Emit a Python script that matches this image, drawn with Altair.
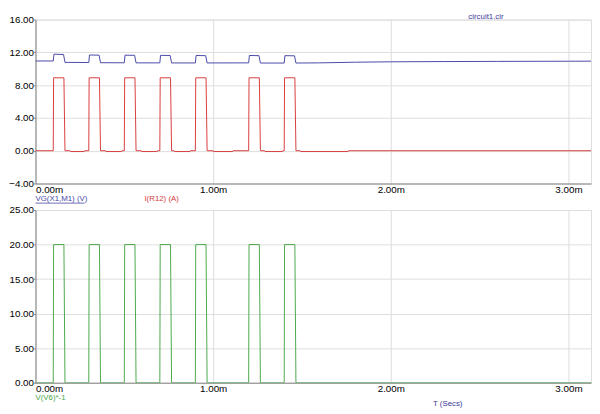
import altair as alt
import pandas as pd

# ---- data (time in ms) ----
blue_t = [0.000, 0.100, 0.104, 0.158, 0.166, 0.300, 0.304, 0.358, 0.366, 0.500, 0.504, 0.558, 0.566,
          0.700, 0.704, 0.758, 0.766, 0.900, 0.904, 0.958, 0.966, 1.200, 1.204, 1.258, 1.266,
          1.400, 1.404, 1.458, 1.466, 1.600, 1.800, 2.000, 2.300, 2.600, 3.000, 3.130]
blue_v = [10.95, 10.95, 11.78, 11.74, 10.78, 10.76, 11.68, 11.66, 10.74, 10.73, 11.66, 11.64, 10.72,
          10.72, 11.64, 11.62, 10.71, 10.71, 11.62, 11.60, 10.71, 10.72, 11.62, 11.60, 10.70,
          10.70, 11.60, 11.58, 10.70, 10.72, 10.80, 10.85, 10.88, 10.90, 10.92, 10.93]

red_t = [0.000, 0.100, 0.102, 0.160, 0.166, 0.195, 0.197, 0.275, 0.277,
         0.300, 0.302, 0.360, 0.366, 0.395, 0.397, 0.485, 0.487,
         0.500, 0.502, 0.560, 0.566, 0.595, 0.597, 0.685, 0.687,
         0.700, 0.702, 0.760, 0.766, 0.780, 0.782, 0.870, 0.872,
         0.900, 0.902, 0.960, 0.966, 1.000, 1.002, 1.110, 1.112,
         1.200, 1.202, 1.260, 1.266, 1.290, 1.292, 1.390, 1.392,
         1.400, 1.402, 1.460, 1.466, 1.490, 1.492, 1.760, 1.762, 3.130]
red_v = [0.0, 0.0, 8.9, 8.9, 0.0, 0.0, -0.1, -0.1, 0.0,
         0.0, 8.9, 8.9, 0.0, 0.0, -0.1, -0.1, 0.0,
         0.0, 8.9, 8.9, 0.0, 0.0, -0.1, -0.1, 0.0,
         0.0, 8.9, 8.9, 0.0, 0.0, -0.1, -0.1, 0.0,
         0.0, 8.9, 8.9, 0.0, 0.0, -0.1, -0.1, 0.0,
         0.0, 8.9, 8.9, 0.0, 0.0, -0.1, -0.1, 0.0,
         0.0, 8.9, 8.9, 0.0, 0.0, -0.1, -0.1, 0.0, 0.0]

green_t = [0.000, 0.100, 0.102, 0.160, 0.166, 0.300, 0.302, 0.360, 0.366, 0.500, 0.502, 0.560, 0.566,
           0.700, 0.702, 0.760, 0.766, 0.900, 0.902, 0.960, 0.966, 1.200, 1.202, 1.260, 1.266,
           1.400, 1.402, 1.460, 1.466, 3.130]
green_v = [0, 0, 20, 20, 0, 0, 20, 20, 0, 0, 20, 20, 0,
           0, 20, 20, 0, 0, 20, 20, 0, 0, 20, 20, 0,
           0, 20, 20, 0, 0]

x_ticks = [0, 1, 2, 3]
top_ticks = [-4, 0, 4, 8, 12, 16]
bottom_ticks = [0, 5, 10, 15, 20, 25]

top_labels = ["VG(X1,M1) (V)", "I(R12) (A)"]
bottom_labels = ["V(V6)*-1", "T (Secs)"]
file_label = "circuit1.cir"

# ---- style ----
FONT = "Liberation Sans"
NAVY = "#3a3a9a"
BLUE = "#4848a8"
RED = "#d83c3c"
GREEN = "#4aa84a"
W = 566
H_TOP = 167
H_BOT = 176
XMAX = 3.127

xscale = alt.Scale(domain=[0, XMAX], nice=False, zero=False)
xaxis = alt.Axis(values=x_ticks, labelExpr="format(datum.value, '.2f') + 'm'",
                 labelFlush=True, title=None, ticks=False, labelPadding=1)


def line(t, v, color, yscale, yaxis):
    df = pd.DataFrame({"t": t, "v": v})
    return alt.Chart(df).mark_line(color=color, strokeWidth=1, clip=True).encode(
        x=alt.X("t:Q", scale=xscale, axis=xaxis),
        y=alt.Y("v:Q", scale=yscale, axis=yaxis),
    )


def label(text, x, y, color, size=8):
    return alt.Chart(pd.DataFrame({"s": [text]})).mark_text(
        align="left", baseline="middle", font=FONT, fontSize=size, color=color
    ).encode(x=alt.value(x), y=alt.value(y), text="s:N")


top_y = alt.Scale(domain=[-4, 16], nice=False)
top_axis = alt.Axis(values=top_ticks, format=".2f", title=None, tickSize=2, labelPadding=0)
bot_y = alt.Scale(domain=[0, 25], nice=False)
bot_axis = alt.Axis(values=bottom_ticks, format=".2f", title=None, tickSize=2, labelPadding=0)

underline = alt.Chart(pd.DataFrame({"a": [0]})).mark_rule(color=BLUE, strokeWidth=0.8).encode(
    x=alt.value(0), x2=alt.value(50), y=alt.value(H_TOP + 20))

top = alt.layer(
    line(blue_t, blue_v, BLUE, top_y, top_axis),
    line(red_t, red_v, RED, top_y, top_axis),
    label(top_labels[0], 0, H_TOP + 16, BLUE),
    underline,
    label(top_labels[1], 111, H_TOP + 16, RED),
    label(file_label, 441, -3, NAVY),
).properties(width=W, height=H_TOP)

bottom = alt.layer(
    line(green_t, green_v, GREEN, bot_y, bot_axis),
    label(bottom_labels[0], 0, H_BOT + 16, GREEN),
    label(bottom_labels[1], 405, H_BOT + 22, NAVY),
).properties(width=W, height=H_BOT)

chart = alt.vconcat(top, bottom, spacing=0).configure_view(
    stroke="#c4c4c4", strokeWidth=1
).configure_axis(
    grid=True, gridColor="#c8c8c8", gridDash=[2, 2], gridWidth=1,
    domainColor="#a8a8a8", domainWidth=1.5, tickColor="#a8a8a8",
    labelFont=FONT, labelFontSize=8, labelColor=NAVY,
).configure(background="white", padding=0)

chart.save("out.html", embed_options={"renderer": "svg", "actions": False})
